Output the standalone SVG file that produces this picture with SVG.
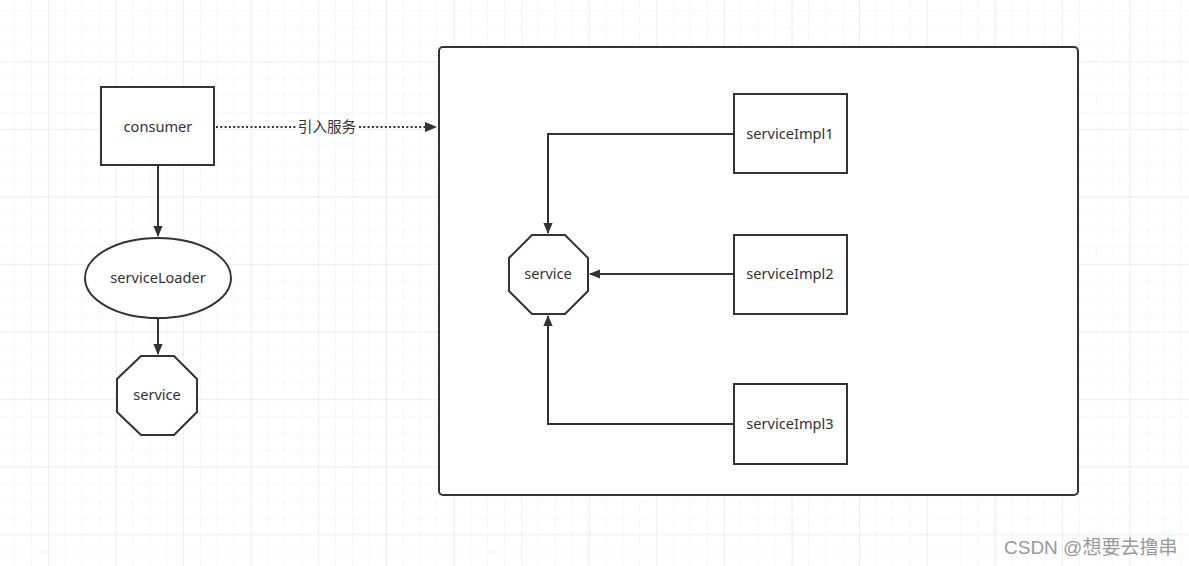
<svg xmlns="http://www.w3.org/2000/svg" width="1189" height="566" viewBox="0 0 1189 566">
<style>
.shape{fill:#fff;stroke:#333;stroke-width:2}
.lbl{font-family:"Noto Sans","Open Sans","Noto Sans CJK SC",sans-serif;font-size:14.6px;fill:#333;text-anchor:middle;dominant-baseline:central}
.edge{fill:none;stroke:#333;stroke-width:2}
.dot{fill:none;stroke:#333;stroke-width:2.2;stroke-dasharray:2 2.3}
.wm{font-family:"Liberation Sans","Noto Sans CJK SC",sans-serif;font-size:19px;fill:#999}
</style>
<defs>
<pattern id="minor" x="-1.9" y="-5.2" width="16.9" height="16.9" patternUnits="userSpaceOnUse">
<path d="M16.9 0V16.9M0 16.9H16.9" fill="none" stroke="#f1f1f1" stroke-width="1"/>
</pattern>
<pattern id="major" x="-18.6" y="-5.2" width="67.6" height="67.5" patternUnits="userSpaceOnUse">
<path d="M67.6 0V67.5M0 67.5H67.6" fill="none" stroke="#e3e3e3" stroke-width="1"/>
</pattern>
<marker id="arr" viewBox="0 0 11 10" refX="10" refY="5" markerWidth="5.5" markerHeight="4.6" orient="auto" markerUnits="strokeWidth" preserveAspectRatio="none">
<path d="M0 0L11 5L0 10z" fill="#333"/>
</marker>
</defs>
<rect width="1189" height="566" fill="#fff"/>
<rect width="1189" height="566" fill="url(#minor)"/>
<rect width="1189" height="566" fill="url(#major)"/>

<g id="container">
<rect class="shape" x="439" y="47" width="639" height="448" rx="4"/>
</g>

<g id="connectors">
<path class="edge" d="M158 166V236" marker-end="url(#arr)"/>
<path class="edge" d="M158 319V354" marker-end="url(#arr)"/>
<path class="dot" d="M216 127H296"/>
<path class="dot" d="M359 127H436" marker-end="url(#arr)"/>
<text class="lbl" x="327" y="126">引入服务</text>
<path class="edge" d="M734 134H548V233" marker-end="url(#arr)"/>
<path class="edge" d="M734 274H590" marker-end="url(#arr)"/>
<path class="edge" d="M734 424H548V316" marker-end="url(#arr)"/>
</g>

<g id="consumer">
<rect class="shape" x="101" y="87" width="113" height="78"/>
<text class="lbl" x="158" y="126">consumer</text>
</g>
<g id="serviceLoader">
<ellipse class="shape" cx="158" cy="278" rx="73" ry="40"/>
<text class="lbl" x="158" y="277">serviceLoader</text>
</g>
<g id="service-left">
<polygon class="shape" points="141,356 174,356 197,379 197,412 174,435 141,435 117,412 117,379"/>
<text class="lbl" x="157" y="394">service</text>
</g>
<g id="service-right">
<polygon class="shape" points="532,235 565,235 588,258 588,291 565,314 532,314 509,291 509,258"/>
<text class="lbl" x="548" y="273">service</text>
</g>
<g id="serviceImpl1">
<rect class="shape" x="734" y="94" width="113" height="79"/>
<text class="lbl" x="790" y="133">serviceImpl1</text>
</g>
<g id="serviceImpl2">
<rect class="shape" x="734" y="235" width="113" height="79"/>
<text class="lbl" x="790" y="273">serviceImpl2</text>
</g>
<g id="serviceImpl3">
<rect class="shape" x="734" y="384" width="113" height="80"/>
<text class="lbl" x="790" y="423">serviceImpl3</text>
</g>
<text class="wm" x="1004" y="554">CSDN @想要去撸串</text>
</svg>
